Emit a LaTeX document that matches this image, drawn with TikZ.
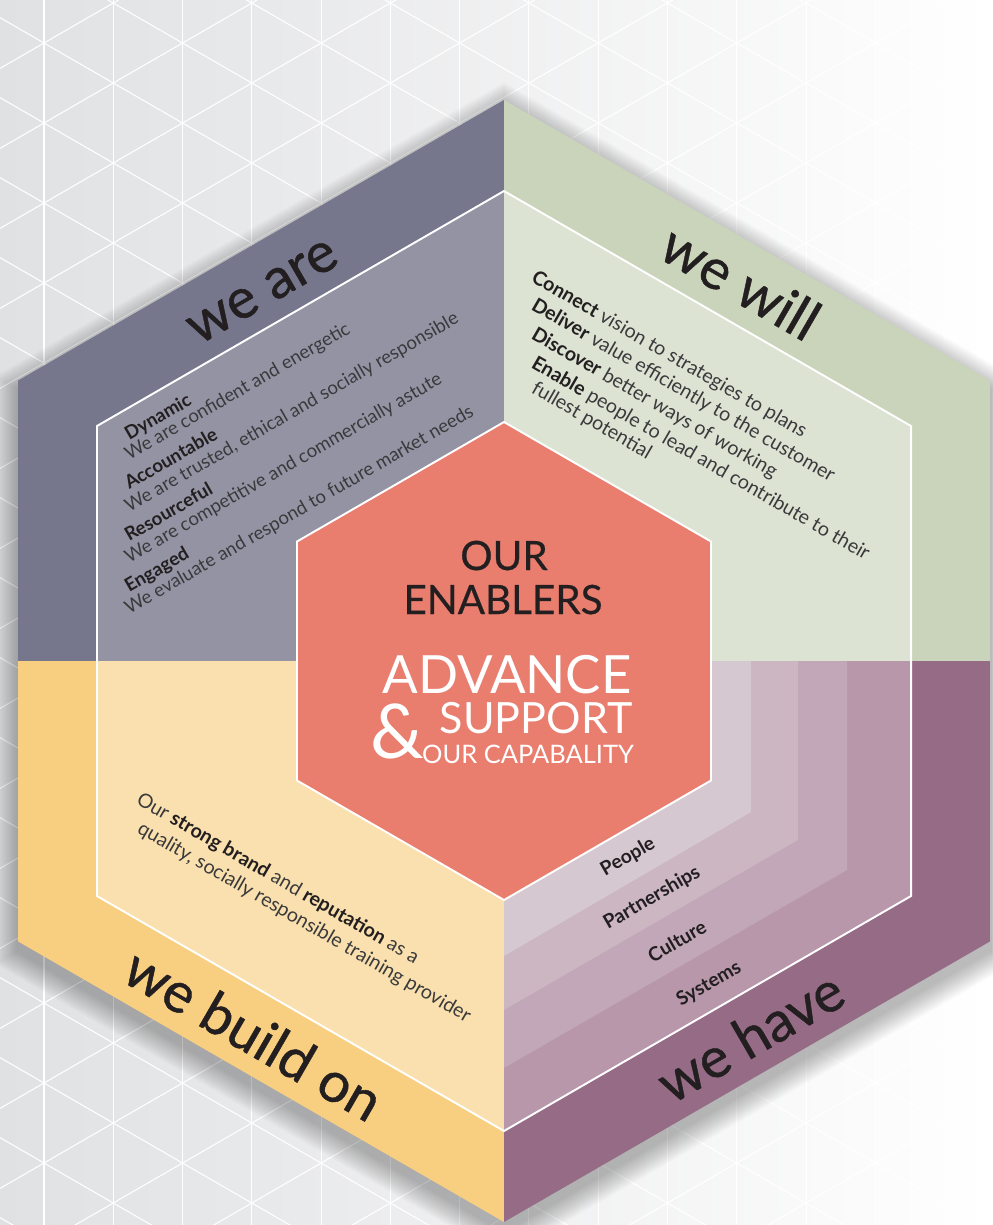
\documentclass[tikz,border=0pt]{standalone}
\usepackage{fontspec}
\setmainfont{Lato}
\usetikzlibrary{positioning}

\definecolor{bggray}{HTML}{E0E1E3}
\definecolor{areouter}{HTML}{76778D}
\definecolor{areinner}{HTML}{9493A4}
\definecolor{willouter}{HTML}{C9D4BA}
\definecolor{willinner}{HTML}{DCE3D3}
\definecolor{buildouter}{HTML}{F8CE80}
\definecolor{buildinner}{HTML}{FAE0AE}
\definecolor{haveouter}{HTML}{966B85}
\definecolor{haveband1}{HTML}{D6C8D0}
\definecolor{haveband2}{HTML}{CBB6C2}
\definecolor{haveband3}{HTML}{C1A7B7}
\definecolor{haveband4}{HTML}{B897AB}
\definecolor{enabler}{HTML}{E97D6E}
\definecolor{headink}{HTML}{231F20}
\definecolor{bodyink}{HTML}{3A3A3C}

\newcommand{\kw}[1]{\textbf{\color{headink}#1}}

\begin{document}
\begin{tikzpicture}[
    x=0.02cm, y=-0.02cm,
    % Text styles
    heading/.style={
        font=\fontsize{32}{36}\selectfont\addfontfeatures{FakeBold=0.8},
        text=headink,
        inner sep=0pt
    },
    upline/.style={
        anchor=base west,
        rotate=30,
        inner sep=0pt,
        text=bodyink,
        font=\fontsize{10.6}{12}\selectfont
    },
    downline/.style={
        anchor=base west,
        rotate=-30,
        inner sep=0pt,
        text=bodyink,
        font=\fontsize{11.2}{13}\selectfont
    },
    bandlabel/.style={
        rotate=30,
        inner sep=0pt,
        text=headink,
        font=\bfseries\fontsize{11}{13}\selectfont
    },
    centretext/.style={
        anchor=base,
        inner sep=0pt
    },
    gridline/.style={draw=white, line width=0.6pt},
    hexline/.style={draw=white, line width=1.1pt}
]
\useasboundingbox (0,0) rectangle (992,1225);

% Background with triangle grid
\fill[left color=bggray, right color=white] (0,0) rectangle (992,1225);
\begin{scope}
    \clip (0,0) rectangle (992,1225);
    \foreach \i in {0,...,14}
        \draw[gridline] (44+69.28*\i,0) -- (44+69.28*\i,1225);
    \foreach \j in {-8,...,15}
        \draw[gridline] (0,17.6+80*\j) -- (992,590.4+80*\j);
    \foreach \j in {-1,...,22}
        \draw[gridline] (0,68.4+80*\j) -- (992,-504.4+80*\j);
\end{scope}

% Soft shadow
\foreach \k [evaluate=\k as \r using 561+2.2*\k] in {1,...,12}
    \fill[black, opacity=0.022, shift={(504,670)}]
        (-90:\r) -- (-30:\r) -- (30:\r) -- (90:\r) -- (150:\r) -- (210:\r) -- cycle;

% Outer quarters
\coordinate (hexcentre) at (504,661);
\begin{scope}[shift={(hexcentre)}]
    \fill[areouter]   (0,0) -- (-90:561) -- (210:561) -- (180:485.8) -- cycle;
    \fill[willouter]  (0,0) -- (-90:561) -- (-30:561) -- (0:485.8) -- cycle;
    \fill[buildouter] (0,0) -- (90:561) -- (150:561) -- (180:485.8) -- cycle;
    \fill[haveouter]  (0,0) -- (90:561) -- (30:561) -- (0:485.8) -- cycle;
    % Inner quarters
    \fill[areinner]   (0,0) -- (-90:470) -- (210:470) -- (180:407) -- cycle;
    \fill[willinner]  (0,0) -- (-90:470) -- (-30:470) -- (0:407) -- cycle;
    \fill[buildinner] (0,0) -- (90:470) -- (150:470) -- (180:407) -- cycle;
    \fill[haveband4]  (0,0) -- (90:470) -- (30:470) -- (0:407) -- cycle;
\end{scope}

% Capability bands
\fill[haveband3] (504,661) -- (847,661) -- (847,870) -- (504,1068) -- cycle;
\fill[haveband2] (504,661) -- (798,661) -- (798,840) -- (504,1010) -- cycle;
\fill[haveband1] (504,661) -- (751,661) -- (751,812) -- (504,956) -- cycle;

% White outlines and centre
\begin{scope}[shift={(hexcentre)}]
    \draw[hexline] (-90:470) -- (-30:470) -- (30:470) -- (90:470) -- (150:470) -- (210:470) -- cycle;
    \filldraw[hexline, fill=enabler] (-90:239) -- (-30:239) -- (30:239) -- (90:239) -- (150:239) -- (210:239) -- cycle;
\end{scope}

% Headings
\node[heading, rotate=30] (weare) at (263,292) {we are};
\node[heading, rotate=-30] (wewill) at (741,282) {we will};
\node[heading, rotate=-30] (webuild) at (254,1034) {we build on};
\node[heading, rotate=30] (wehave) at (750,1036) {we have};

% We are
\node[upline] (dynamic) at (129,441) {\kw{Dynamic}};
\node[upline] (dynamicsub) at (129,461) {We are confident and energetic};
\node[upline] (accountable) at (129,490) {\kw{Accountable}};
\node[upline] (accountablesub) at (129,513) {We are trusted, ethical and socially responsible};
\node[upline] (resourceful) at (129,542) {\kw{Resourceful}};
\node[upline] (resourcefulsub) at (129,564) {We are competitive and commercially astute};
\node[upline] (engaged) at (129,593) {\kw{Engaged}};
\node[upline] (engagedsub) at (129,615) {We evaluate and respond to future market needs};

% We will
\node[downline] (connect) at (530,281) {\kw{Connect} vision to strategies to plans};
\node[downline] (deliver) at (530,309) {\kw{Deliver} value efficiently to the customer};
\node[downline] (discover) at (530,338) {\kw{Discover} better ways of working};
\node[downline] (enable) at (530,367) {\kw{Enable} people to lead and contribute to their};
\node[downline] (fullest) at (530,392) {fullest potential};

% We build on
\node[downline] (brand) at (135,803) {Our \kw{strong brand} and \kw{reputation} as a};
\node[downline] (quality) at (136,832) {quality, socially responsible training provider};

% We have
\node[bandlabel] (people) at (628,857) {People};
\node[bandlabel] (partnerships) at (652,898) {Partnerships};
\node[bandlabel] (culture) at (677,941) {Culture};
\node[bandlabel] (systems) at (709,984) {Systems};

% Centre text
\node[centretext, text=headink, font=\fontsize{23}{26}\selectfont\addfontfeatures{FakeBold=0.5}] (our) at (504,570) {OUR};
\node[centretext, text=headink, font=\fontsize{23}{26}\selectfont\addfontfeatures{FakeBold=0.5}] (enablers) at (503,614) {ENABLERS};
\node[centretext, text=white, font=\fontsize{30}{34}\selectfont] (advance) at (507,693) {ADVANCE};
\node[inner sep=0pt, text=white, font=\fontsize{43}{46}\selectfont] (amp) at (397,731) {\&};
\node[centretext, text=white, font=\fontsize{24.5}{28}\selectfont] (support) at (536,733) {SUPPORT};
\node[centretext, text=white, font=\fontsize{14.5}{17}\selectfont] (capab) at (528,763) {OUR CAPABALITY};

\end{tikzpicture}
\end{document}
